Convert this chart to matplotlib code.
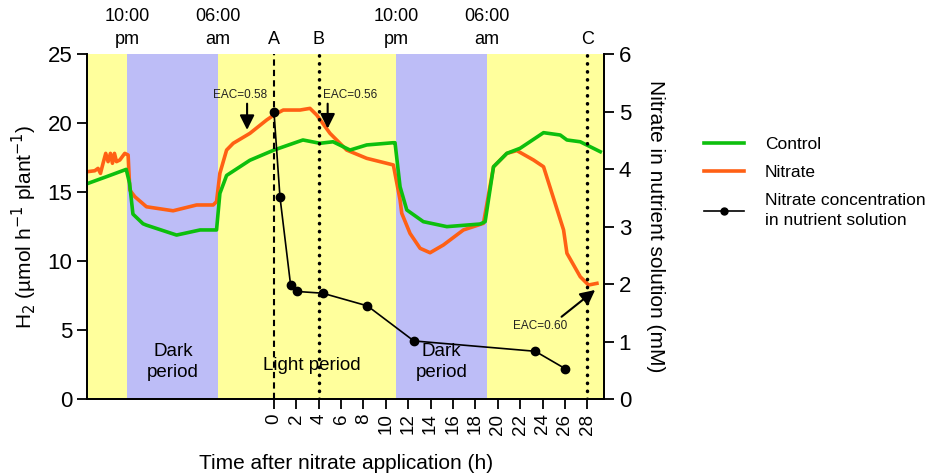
import numpy as np
import matplotlib.pyplot as plt
from matplotlib.lines import Line2D
import matplotlib.transforms as mtransforms

plt.rcParams['font.family'] = ['Liberation Sans', 'DejaVu Sans']

# H2 production, control plants (h after nitrate application, umol/h/plant)
control_t = [-16.7, -15.0, -13.2, -12.9, -12.6, -11.7, -11.4, -8.7, -6.6, -5.13,
             -4.83, -4.23, -2.15, 0.0, 2.59, 4.11, 5.28, 6.8, 8.29, 10.64,
             10.82, 11.27, 11.87, 13.35, 15.45, 18.43, 18.87, 19.62, 20.81, 22.0,
             24.09, 25.58, 26.18, 27.37, 29.16]
control_h2 = [15.6, 16.1, 16.64, 15.63, 13.4, 12.7, 12.6, 11.88, 12.25, 12.25,
              14.9, 16.2, 17.3, 18.04, 18.77, 18.53, 18.64, 18.04, 18.41, 18.57,
              18.57, 15.38, 13.7, 12.85, 12.49, 12.68, 12.85, 16.83, 17.8, 18.17,
              19.3, 19.13, 18.77, 18.64, 17.92]

# H2 production, nitrate-treated plants
nitrate_t = [-16.7, -16.01, -15.72, -15.5, -15.27, -15.03, -14.82, -14.61, -14.43, -14.25,
             -14.07, -13.77, -13.33, -13.03, -12.88, -12.43, -11.39, -9.01, -6.91, -5.43,
             -5.13, -4.83, -4.23, -3.64, -2.15, -0.65, 0.0, 0.83, 2.33, 3.22,
             3.82, 5.01, 6.5, 8.29, 10.67, 11.27, 11.42, 12.16, 13.06, 13.95,
             15.14, 16.93, 18.72, 19.62, 20.81, 21.71, 23.19, 24.09, 25.88, 26.18,
             27.37, 28.11, 28.86]
nitrate_h2 = [16.47, 16.54, 16.71, 16.35, 17.08, 17.8, 17.2, 17.8, 17.08, 17.8,
              17.2, 17.32, 17.8, 17.68, 15.14, 14.66, 13.93, 13.64, 14.06, 14.06,
              14.3, 16.36, 18.04, 18.53, 19.25, 20.22, 20.58, 20.94, 20.94, 21.06,
              20.58, 19.25, 18.04, 17.44, 16.96, 14.42, 13.46, 12.0, 10.92, 10.6,
              11.16, 12.25, 12.73, 16.83, 17.8, 18.0, 17.32, 16.83, 12.25, 10.56,
              8.86, 8.26, 8.38]

# nitrate concentration in nutrient solution (mM)
conc_t = [0.0, 0.54, 1.49, 2.08, 4.35, 8.35, 12.5, 23.35, 26.0]
conc_mm = [5.0, 3.51, 1.98, 1.87, 1.84, 1.62, 1.01, 0.83, 0.53]

dark_periods = [(-13.1, -5.0), (10.9, 19.05)]
clock_pos = [-13.1, -5.0, 10.9, 19.05]
clock_labels = ["10:00\npm", "06:00\nam", "10:00\npm", "06:00\nam"]
sample_pos = [0, 4, 28]
sample_labels = ["A", "B", "C"]

fig = plt.figure(figsize=(9.37, 4.75), dpi=100)
ax = fig.add_axes([0.0929, 0.16, 0.5518, 0.7263])
ax2 = ax.twinx()

x0, x1 = -16.7, 29.5
ax.axvspan(x0, x1, color="#FFFF9C", lw=0, zorder=0)
for a, b in dark_periods:
    ax.axvspan(a, b, color="#BDBDF7", lw=0, zorder=0.5)

ax.plot(control_t, control_h2, color="#0DBF0D", lw=2.6, zorder=3, solid_joinstyle="round")
ax.plot(nitrate_t, nitrate_h2, color="#FF6014", lw=2.6, zorder=2, solid_joinstyle="round")

# sampling lines
ax.axvline(0, color="black", lw=1.5, ls=(0, (3, 2)), zorder=4)
for xv in (4, 28):
    ax.axvline(xv, color="black", lw=2.5, ls=(0, (0.1, 2.2)), dash_capstyle="round", zorder=4)

ax2.plot(conc_t, conc_mm, color="black", lw=1.2, marker="o", ms=6, zorder=5)

ax.set_xlim(x0, x1)
ax.set_ylim(0, 25)
ax2.set_ylim(0, 6)
ax.set_xticks(np.arange(0, 29, 2))
ax.set_xticklabels([str(v) for v in range(0, 29, 2)], rotation=90, fontsize=13.5)
ax.set_yticks(np.arange(0, 26, 5))
ax2.set_yticks(np.arange(0, 7, 1))
ax.tick_params(axis="y", labelsize=16, length=7, width=1.3)
ax.tick_params(axis="x", length=7, width=1.3)
ax2.tick_params(axis="y", labelsize=16, length=7, width=1.3)

for a_ in (ax, ax2):
    a_.spines["top"].set_visible(False)
    for s in ("left", "right", "bottom"):
        a_.spines[s].set_linewidth(1.3)

ax.set_ylabel("H$_2$ (µmol h$^{-1}$ plant$^{-1}$)", fontsize=15, labelpad=6)
ax2.set_ylabel("Nitrate in nutrient solution (mM)", fontsize=15, rotation=270, labelpad=24)
ax.set_xlabel("Time after nitrate application (h)", fontsize=15, labelpad=14)

trans = mtransforms.blended_transform_factory(ax.transData, ax.transAxes)
for xp, lab in zip(clock_pos, clock_labels):
    ax.text(xp, 1.018, lab, transform=trans, ha="center", va="bottom",
            fontsize=13, linespacing=1.45)
for xp, lab in zip(sample_pos, sample_labels):
    ax.text(xp, 1.018, lab, transform=trans, ha="center", va="bottom", fontsize=13)

ax.text(-9.0, 2.7, "Dark\nperiod", ha="center", va="center", fontsize=13.5, linespacing=1.3)
ax.text(15.0, 2.7, "Dark\nperiod", ha="center", va="center", fontsize=13.5, linespacing=1.3)
ax.text(3.4, 2.4, "Light period", ha="center", va="center", fontsize=13.5)

arrow = dict(arrowstyle="-|>", color="black", lw=1.5, mutation_scale=22, shrinkA=0, shrinkB=0)
ax.annotate("", xy=(-2.4, 19.5), xytext=(-2.4, 21.4), arrowprops=arrow, zorder=6)
ax.text(-3.0, 22.0, "EAC=0.58", ha="center", va="center", fontsize=8.5, color="#222222")
ax.annotate("", xy=(4.8, 19.6), xytext=(4.8, 21.4), arrowprops=arrow, zorder=6)
ax.text(6.8, 22.0, "EAC=0.56", ha="center", va="center", fontsize=8.5, color="#222222")
ax.annotate("", xy=(28.7, 7.9), xytext=(25.7, 5.96), arrowprops=arrow, zorder=6)
ax.text(23.8, 5.3, "EAC=0.60", ha="center", va="center", fontsize=8.5, color="#222222")

handles = [
    Line2D([], [], color="#0DBF0D", lw=2.6),
    Line2D([], [], color="#FF6014", lw=2.6),
    Line2D([], [], color="black", lw=1.2, marker="o", ms=5),
]
labels = ["Control", "Nitrate", "Nitrate concentration\nin nutrient solution"]
leg = fig.legend(handles, labels, loc="upper left", bbox_to_anchor=(0.735, 0.745),
                 frameon=False, fontsize=12.5, handlelength=2.3, labelspacing=0.75,
                 handletextpad=1.2)
for t in leg.get_texts():
    t.set_linespacing(1.45)

fig.savefig("out.png", dpi=100)
